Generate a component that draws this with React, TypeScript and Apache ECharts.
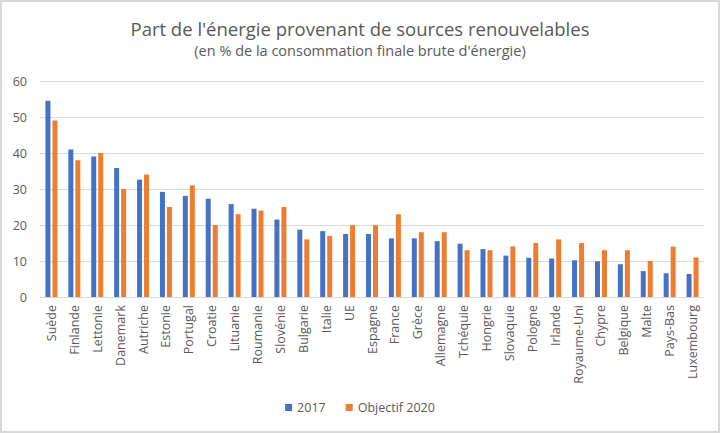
import React, { useEffect, useRef } from "react";
import * as echarts from "echarts";

const categories = [
  "Suède", "Finlande", "Lettonie", "Danemark", "Autriche", "Estonie", "Portugal",
  "Croatie", "Lituanie", "Roumanie", "Slovénie", "Bulgarie", "Italie", "UE",
  "Espagne", "France", "Grèce", "Allemagne", "Tchéquie", "Hongrie", "Slovaquie",
  "Pologne", "Irlande", "Royaume-Uni", "Chypre", "Belgique", "Malte", "Pays-Bas",
  "Luxembourg",
];
const values2017 = [
  54.5, 41.0, 39.0, 35.8, 32.6, 29.2, 28.1, 27.3, 25.8, 24.5, 21.5, 18.7, 18.3, 17.5,
  17.5, 16.3, 16.3, 15.5, 14.8, 13.3, 11.5, 10.9, 10.7, 10.2, 9.9, 9.1, 7.2, 6.6, 6.4,
];
const objectif2020 = [
  49, 38, 40, 30, 34, 25, 31, 20, 23, 24, 25, 16, 17, 20,
  20, 23, 18, 18, 13, 13, 14, 15, 16, 15, 13, 13, 10, 14, 11,
];
const yTicks = { min: 0, max: 60, interval: 10 };

export default function App() {
  const ref = useRef<HTMLDivElement>(null);
  useEffect(() => {
    document.body.style.margin = "0";
    const chart = echarts.init(ref.current!, null, { renderer: "svg" });
    const font = "Open Sans, Liberation Sans, sans-serif";
    chart.setOption({
      animation: false,
      backgroundColor: "#ffffff",
      textStyle: { fontFamily: font },
      graphic: [
        {
          type: "rect",
          shape: { x: 1, y: 1, width: 718, height: 431 },
          style: { fill: "none", stroke: "#d9d9d9", lineWidth: 2 },
          silent: true,
        },
      ],
      title: {
        text: "Part de l'énergie provenant de sources renouvelables",
        subtext: "(en % de la consommation finale brute d'énergie)",
        left: "center",
        top: 14,
        itemGap: 5,
        textStyle: { fontFamily: font, fontSize: 18.5, fontWeight: "normal", color: "#595959" },
        subtextStyle: { fontFamily: font, fontSize: 14.5, color: "#595959" },
      },
      legend: {
        bottom: 14,
        left: "center",
        itemWidth: 7,
        itemHeight: 7,
        itemGap: 20,
        icon: "rect",
        textStyle: { fontFamily: font, fontSize: 12.5, color: "#595959" },
        data: ["2017", "Objectif 2020"],
      },
      grid: { left: 40, right: 16, top: 81, bottom: 136 },
      xAxis: {
        type: "category",
        data: categories,
        axisLine: { lineStyle: { color: "#d9d9d9" } },
        axisTick: { show: false },
        axisLabel: { rotate: 90, interval: 0, margin: 8, fontSize: 12.5, color: "#595959", fontFamily: font },
      },
      yAxis: {
        type: "value",
        min: yTicks.min,
        max: yTicks.max,
        interval: yTicks.interval,
        axisLine: { show: false },
        axisTick: { show: false },
        axisLabel: { fontSize: 12.5, color: "#595959", margin: 13, fontFamily: font },
        splitLine: { lineStyle: { color: "#d9d9d9" } },
      },
      series: [
        {
          name: "2017",
          type: "bar",
          data: values2017,
          barWidth: 5,
          barGap: "40%",
          itemStyle: { color: "#4472C4" },
        },
        {
          name: "Objectif 2020",
          type: "bar",
          data: objectif2020,
          barWidth: 5,
          itemStyle: { color: "#ED7D31" },
        },
      ],
    });
    return () => chart.dispose();
  }, []);
  return <div ref={ref} style={{ width: 720, height: 433 }} />;
}
